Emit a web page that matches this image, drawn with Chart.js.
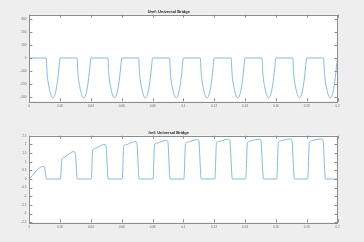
<!DOCTYPE html>
<html>
<head>
<meta charset="utf-8">
<script src="https://cdn.jsdelivr.net/npm/chart.js@4.4.0/dist/chart.umd.min.js"></script>
<style>
  html, body { margin: 0; padding: 0; background: #eeeeee; }
  canvas { display: block; }
</style>
</head>
<body>
<canvas id="uref" width="364" height="121"></canvas>
<canvas id="iref" width="364" height="121"></canvas>
<script>
// x axis (time, s)
const xTickVals = [0, 0.02, 0.04, 0.06, 0.08, 0.1, 0.12, 0.14, 0.16, 0.18, 0.2];
const xTickLabels = ['0', '0.02', '0.04', '0.06', '0.08', '0.1', '0.12', '0.14', '0.16', '0.18', '0.2'];

// Uref trace
const uTime = [0,
  0.011, 0.0115, 0.012, 0.0128, 0.014, 0.0152, 0.0163, 0.0175, 0.0186, 0.0193, 0.02,
  0.031, 0.0315, 0.032, 0.0328, 0.034, 0.0352, 0.0363, 0.0375, 0.0386, 0.0393, 0.04,
  0.051, 0.0515, 0.052, 0.0528, 0.054, 0.0552, 0.0563, 0.0575, 0.0586, 0.0593, 0.06,
  0.071, 0.0715, 0.072, 0.0728, 0.074, 0.0752, 0.0763, 0.0775, 0.0786, 0.0793, 0.08,
  0.091, 0.0915, 0.092, 0.0928, 0.094, 0.0952, 0.0963, 0.0975, 0.0986, 0.0993, 0.1,
  0.111, 0.1115, 0.112, 0.1128, 0.114, 0.1152, 0.1163, 0.1175, 0.1186, 0.1193, 0.12,
  0.131, 0.1315, 0.132, 0.1328, 0.134, 0.1352, 0.1363, 0.1375, 0.1386, 0.1393, 0.14,
  0.151, 0.1515, 0.152, 0.1528, 0.154, 0.1552, 0.1563, 0.1575, 0.1586, 0.1593, 0.16,
  0.171, 0.1715, 0.172, 0.1728, 0.174, 0.1752, 0.1763, 0.1775, 0.1786, 0.1793, 0.18,
  0.191, 0.1915, 0.192, 0.1928, 0.194, 0.1952, 0.1963, 0.1975, 0.1986, 0.1993, 0.2];
const uVal = [0,
  0, -110, -170, -225, -285, -308, -295, -240, -150, -70, 0,
  0, -110, -170, -225, -285, -308, -295, -240, -150, -70, 0,
  0, -110, -170, -225, -285, -308, -295, -240, -150, -70, 0,
  0, -110, -170, -225, -285, -308, -295, -240, -150, -70, 0,
  0, -110, -170, -225, -285, -308, -295, -240, -150, -70, 0,
  0, -110, -170, -225, -285, -308, -295, -240, -150, -70, 0,
  0, -110, -170, -225, -285, -308, -295, -240, -150, -70, 0,
  0, -110, -170, -225, -285, -308, -295, -240, -150, -70, 0,
  0, -110, -170, -225, -285, -308, -295, -240, -150, -70, 0,
  0, -110, -170, -225, -285, -308, -295, -240, -150, -70, 0];
const uTicks = [300, 200, 100, 0, -100, -200, -300];
const uTickLabels = ['300', '200', '100', '0', '-100', '-200', '-300'];

// Iref trace
const iTime = [0, 0.002, 0.004, 0.006, 0.0075, 0.0085, 0.0097, 0.0112,
  0.0202, 0.0212, 0.023, 0.025, 0.027, 0.0285, 0.0297, 0.0312,
  0.0402, 0.0412, 0.043, 0.045, 0.047, 0.0485, 0.0497, 0.0512,
  0.0603, 0.0613, 0.063, 0.065, 0.067, 0.0685, 0.0697, 0.0713,
  0.0803, 0.0813, 0.083, 0.085, 0.087, 0.0885, 0.0898, 0.0914,
  0.1003, 0.1014, 0.103, 0.105, 0.107, 0.1085, 0.1099, 0.1116,
  0.1204, 0.1215, 0.123, 0.125, 0.127, 0.1285, 0.13, 0.1318,
  0.1404, 0.1416, 0.143, 0.145, 0.147, 0.1486, 0.1502, 0.152,
  0.1605, 0.1617, 0.163, 0.165, 0.167, 0.1687, 0.1703, 0.1721,
  0.1806, 0.1818, 0.183, 0.185, 0.187, 0.1888, 0.1905, 0.1922,
  0.2];
const iVal = [0, 0.2, 0.42, 0.6, 0.69, 0.72, 0.71, 0,
  0, 1.14, 1.27, 1.40, 1.53, 1.58, 1.55, 0,
  0, 1.68, 1.77, 1.87, 1.95, 1.99, 1.96, 0,
  0, 1.90, 1.98, 2.06, 2.13, 2.16, 2.13, 0,
  0, 2.00, 2.07, 2.14, 2.20, 2.23, 2.20, 0,
  0, 2.07, 2.13, 2.19, 2.25, 2.27, 2.24, 0,
  0, 2.10, 2.16, 2.21, 2.27, 2.29, 2.26, 0,
  0, 2.13, 2.18, 2.23, 2.28, 2.30, 2.27, 0,
  0, 2.15, 2.20, 2.25, 2.29, 2.31, 2.28, 0,
  0, 2.16, 2.21, 2.25, 2.29, 2.31, 2.28, 0,
  0];
const iTicks = [2.5, 2, 1.5, 1, 0.5, 0, -0.5, -1, -1.5, -2, -2.5];
const iTickLabels = ['2.5', '2', '1.5', '1', '0.5', '0', '-0.5', '-1', '-1.5', '-2', '-2.5'];

const LINE = '#85bbd8';
const FRAME = '#8c8c8c';
const LABEL = '#666666';

// white plot box + matlab style inward ticks on all four sides
const axesBox = {
  id: 'axesBox',
  beforeDraw(chart) {
    const { ctx, chartArea: a } = chart;
    ctx.save();
    ctx.fillStyle = '#eeeeee';
    ctx.fillRect(0, 0, chart.width, chart.height);
    ctx.fillStyle = '#ffffff';
    ctx.fillRect(a.left, a.top, a.right - a.left, a.bottom - a.top);
    ctx.restore();
  },
  afterDatasetsDraw(chart) {
    const { ctx, chartArea: a, scales } = chart;
    ctx.save();
    ctx.strokeStyle = FRAME;
    ctx.lineWidth = 1;
    ctx.strokeRect(Math.round(a.left) + 0.5, Math.round(a.top) + 0.5,
      Math.round(a.right - a.left), Math.round(a.bottom - a.top));
    ctx.beginPath();
    scales.x.ticks.forEach(t => {
      const px = Math.round(scales.x.getPixelForValue(t.value)) + 0.5;
      ctx.moveTo(px, a.bottom); ctx.lineTo(px, a.bottom - 3);
      ctx.moveTo(px, a.top); ctx.lineTo(px, a.top + 3);
    });
    scales.y.ticks.forEach(t => {
      const py = Math.round(scales.y.getPixelForValue(t.value)) + 0.5;
      ctx.moveTo(a.left, py); ctx.lineTo(a.left + 3, py);
      ctx.moveTo(a.right, py); ctx.lineTo(a.right - 3, py);
    });
    ctx.stroke();
    ctx.restore();
  }
};

function makeChart(id, title, times, vals, yMin, yMax, yTicks, yLabels) {
  const pts = times.map((t, i) => ({ x: t, y: vals[i] }));
  return new Chart(document.getElementById(id), {
    type: 'line',
    data: {
      datasets: [{
        data: pts,
        borderColor: LINE,
        borderWidth: 1,
        pointRadius: 0,
        cubicInterpolationMode: 'monotone',
        fill: false
      }]
    },
    options: {
      responsive: false,
      animation: false,
      devicePixelRatio: 1,
      layout: { padding: { left: 0, right: 26.5, top: 0, bottom: 0 } },
      plugins: {
        legend: { display: false },
        tooltip: { enabled: false },
        title: {
          display: true,
          text: title,
          color: '#222222',
          font: { family: 'Liberation Sans', size: 4, weight: 'bold', lineHeight: 1 },
          padding: { top: 9.7, bottom: 1 }
        }
      },
      scales: {
        x: {
          type: 'linear',
          min: 0,
          max: 0.2,
          grid: { display: false, drawTicks: false },
          border: { display: false },
          afterBuildTicks: s => { s.ticks = xTickVals.map(v => ({ value: v })); },
          afterFit: s => { s.height = 19.7; },
          ticks: {
            autoSkip: false,
            maxRotation: 0,
            padding: 3,
            color: LABEL,
            font: { family: 'Liberation Sans', size: 3 },
            callback: (v, i) => xTickLabels[i]
          }
        },
        y: {
          min: yMin,
          max: yMax,
          grid: { display: false, drawTicks: false },
          border: { display: false },
          afterBuildTicks: s => { s.ticks = yTicks.map(v => ({ value: v })); },
          afterFit: s => { s.width = 29.3; },
          ticks: {
            autoSkip: false,
            padding: 3,
            color: LABEL,
            font: { family: 'Liberation Sans', size: 3 },
            callback: (v, i) => yLabels[i]
          }
        }
      }
    },
    plugins: [axesBox]
  });
}

makeChart('uref', 'Uref: Universal Bridge', uTime, uVal, -335, 335, uTicks, uTickLabels);
makeChart('iref', 'Iref: Universal Bridge', iTime, iVal, -2.5, 2.5, iTicks, iTickLabels);
</script>
</body>
</html>
